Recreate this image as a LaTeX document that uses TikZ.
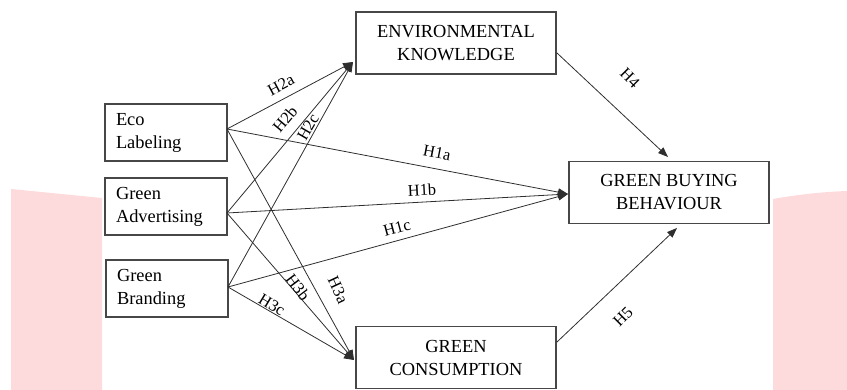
\documentclass[tikz,border=0pt]{standalone}
\usepackage{fontspec}
\setmainfont{Liberation Serif}
\usetikzlibrary{arrows.meta}
\definecolor{pinkbg}{HTML}{FDDADC}
\definecolor{linegray}{HTML}{2E2E2E}
\definecolor{boxgray}{HTML}{474747}
\begin{document}
\begin{tikzpicture}[x=1pt,y=-1pt,
  txt/.style={font=\fontsize{18.4}{23}\selectfont},
  smallbox/.style={draw=boxgray,line width=1.1pt,minimum width=122pt,minimum height=57pt,inner sep=0pt,txt,align=left,text width=100pt},
  bigbox/.style={draw=boxgray,line width=1.1pt,minimum width=200pt,minimum height=62pt,inner sep=0pt,txt,align=center},
  conn/.style={draw=linegray,line width=0.8pt,-{Triangle[length=10pt,width=7.5pt]}},
  hlab/.style={font=\fontsize{16.5}{20}\selectfont,inner sep=0pt}
]
\useasboundingbox (0,0) rectangle (847,390);
% pink background shapes
\fill[pinkbg] (11,189) -- (102,198) -- (102,390) -- (11,390) -- cycle;
\fill[pinkbg] (773,199) .. controls (795,195) and (820,192) .. (847,191) -- (847,390) -- (773,390) -- cycle;

% boxes
\node[smallbox] (eco) at (166,132.5) {Eco\\Labeling};
\node[smallbox] (adv) at (166,206.5) {Green\\Advertising};
\node[smallbox] (brand) at (167,288.5) {Green\\Branding};
\node[bigbox] (ek) at (456,43) {ENVIRONMENTAL\\KNOWLEDGE};
\node[bigbox] (gbb) at (669,192.5) {GREEN BUYING\\BEHAVIOUR};
\node[bigbox] (gc) at (456,357.5) {GREEN\\CONSUMPTION};

% connection points
\coordinate (ecoO) at (227,129);
\coordinate (advO) at (227,213);
\coordinate (brandO) at (228,287);
\coordinate (ekI) at (353,62);
\coordinate (gcI) at (354,360);
\coordinate (gbbI) at (568,194);
\coordinate (ekO) at (557,53);
\coordinate (gbbT) at (668,157);
\coordinate (gcO) at (557,342);
\coordinate (gbbB) at (677,228);

% H2
\draw[conn] (ecoO) -- (ekI);
\draw[conn] (advO) -- (ekI);
\draw[conn] (brandO) -- (ekI);
% H1
\draw[conn] (ecoO) -- (gbbI);
\draw[conn] (advO) -- (gbbI);
\draw[conn] (brandO) -- (gbbI);
% H3
\draw[conn] (ecoO) -- (gcI);
\draw[conn] (advO) -- (gcI);
\draw[conn] (brandO) -- (gcI);
% H4, H5
\draw[conn] (ekO) -- (gbbT);
\draw[conn] (gcO) -- (gbbB);

% labels
\node[hlab,rotate=28] (l2a) at (281,85) {H2a};
\node[hlab,rotate=50] (l2b) at (285,119) {H2b};
\node[hlab,rotate=60] (l2c) at (308,127) {H2c};
\node[hlab,rotate=-11] (l1a) at (437,153) {H1a};
\node[hlab,rotate=3] (l1b) at (422,190) {H1b};
\node[hlab,rotate=15] (l1c) at (397,228) {H1c};
\node[hlab,rotate=-65] (l3a) at (338,290) {H3a};
\node[hlab,rotate=-53] (l3b) at (298,287) {H3b};
\node[hlab,rotate=-31] (l3c) at (272,305) {H3c};
\node[hlab,rotate=-45] (l4) at (630,78) {H4};
\node[hlab,rotate=45] (l5) at (623,317) {H5};
\end{tikzpicture}
\end{document}
